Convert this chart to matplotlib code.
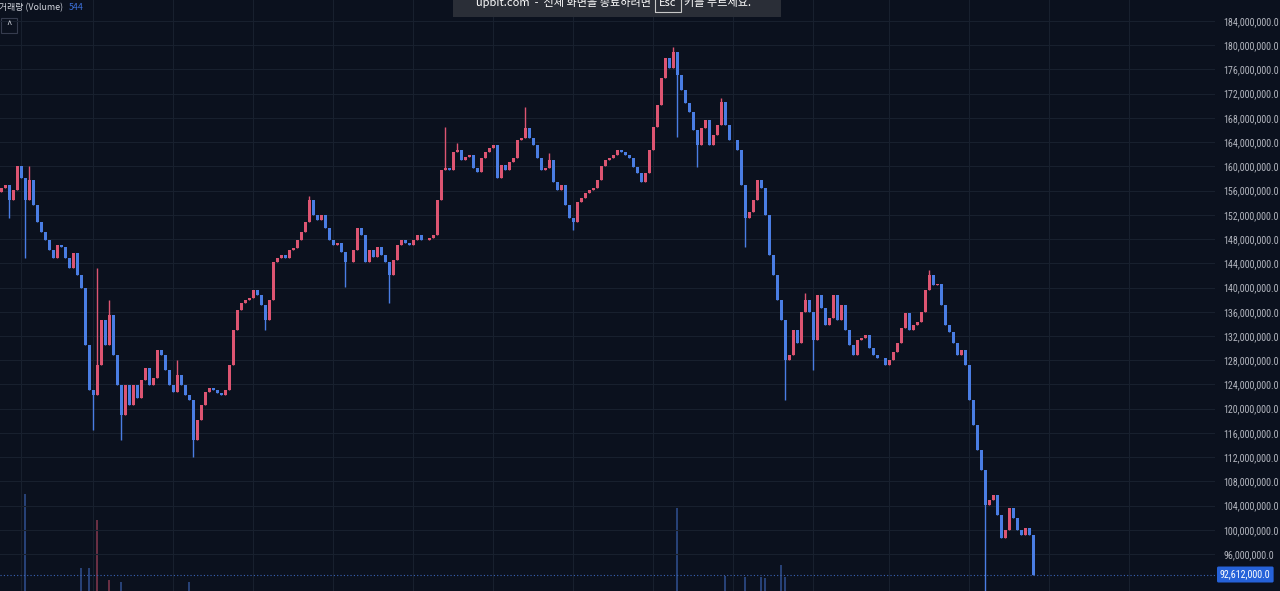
import matplotlib
matplotlib.use('Agg')
import matplotlib.pyplot as plt
from matplotlib import font_manager
from matplotlib.patches import Rectangle
from matplotlib.transforms import blended_transform_factory
import numpy as np

# 종가 (백만 KRW), 캔들 순서대로 - 차트에서 읽은 값
closes = [
    156.4, 156.9, 154.4, 156.1, 160.0, 158.1, 154.4, 157.7, 153.6, 150.8,
    149.2, 147.8, 146.2, 144.9, 147.0, 146.7, 144.9, 143.2, 145.7, 142.1,
    139.9, 130.5, 123.1, 122.3, 127.2, 134.6, 130.5, 135.5, 128.9, 123.9,
    118.9, 123.9, 120.6, 123.9, 121.8, 124.7, 126.7, 123.9, 125.1, 129.7,
    128.9, 126.4, 123.9, 122.7, 125.5, 123.9, 122.3, 121.4, 114.8, 118.1,
    120.6, 122.7, 123.4, 123.1, 122.6, 122.3, 123.1, 127.2, 133.0, 136.3,
    137.4, 137.9, 138.3, 139.6, 138.8, 137.1, 134.6, 137.9, 144.2, 144.9,
    145.4, 144.9, 146.2, 146.5, 147.8, 149.2, 150.8, 154.4, 152.0, 151.2,
    152.0, 149.8, 147.8, 147.0, 147.4, 145.9, 144.2, 144.2, 146.2, 149.8,
    148.7, 144.2, 146.2, 145.0, 146.7, 145.4, 144.2, 142.1, 144.5, 147.0,
    147.8, 147.4, 147.0, 147.8, 148.7, 147.8, 147.8, 148.2, 148.7, 154.4,
    159.4, 159.7, 159.4, 162.4, 162.7, 161.1, 161.5, 161.9, 159.7, 159.1,
    161.4, 162.4, 163.0, 163.5, 158.1, 160.2, 159.4, 160.7, 161.4, 164.4,
    164.7, 166.3, 164.7, 163.5, 161.4, 159.4, 159.7, 161.1, 157.4, 156.1,
    156.9, 153.6, 151.5, 150.8, 154.1, 154.8, 155.6, 156.1, 156.4, 157.7,
    160.1, 161.1, 161.4, 161.9, 162.7, 162.4, 161.9, 161.4, 159.9, 158.9,
    157.4, 158.9, 162.7, 166.5, 170.1, 174.6, 177.9, 176.2, 178.9, 175.1,
    172.6, 170.5, 169.0, 166.0, 163.5, 166.3, 167.7, 163.5, 165.2, 166.8,
    170.6, 166.8, 164.4, 164.4, 162.7, 156.9, 151.5, 152.5, 154.4, 157.7,
    156.4, 152.0, 145.4, 142.1, 137.9, 134.6, 128.0, 128.9, 133.0, 130.8,
    136.0, 137.9, 136.0, 131.3, 138.8, 136.6, 133.8, 135.0, 138.8, 134.6,
    137.1, 133.0, 130.5, 128.9, 131.3, 131.7, 132.2, 130.0, 128.9, 128.4,
    128.4, 127.2, 128.0, 129.4, 130.8, 133.3, 135.8, 133.0, 133.8, 134.3,
    136.0, 139.6, 142.1, 140.4, 140.6, 137.1, 133.8, 132.7, 130.8, 128.9,
    129.7, 127.2, 121.4, 117.3, 113.2, 109.9, 104.1, 104.9, 105.7, 102.4,
    98.6, 100.0, 103.6, 101.9, 100.0, 99.1, 100.3, 99.1, 92.612,
]
first_open = 155.8

# 꼬리 (고가/저가) - 눈에 띄는 것만
spike_high = {7: 160.0, 24: 143.2, 27: 137.9, 44: 128.0, 77: 155.1,
              111: 166.5, 114: 163.8, 131: 169.8, 137: 162.2, 168: 179.7,
              180: 171.3, 201: 139.1, 232: 142.9}
spike_low = {2: 151.5, 6: 144.9, 23: 116.5, 30: 114.8, 48: 112.0, 66: 133.0,
             86: 140.1, 97: 137.4, 143: 149.5, 169: 164.9, 174: 159.9,
             186: 146.7, 196: 121.4, 203: 126.4, 246: 89.0}

# 거래량
vol_idx = [6, 20, 22, 24, 27, 30, 47, 169, 181, 186, 190, 191, 195, 196]
vol_val = [97, 23, 23, 71, 11, 9, 9, 83, 15, 14, 14, 13, 26, 14]

price_ticks = list(range(96, 185, 4))
vgrid_idx = [5, 23, 43, 63, 83, 103, 123, 143, 163, 183, 203, 222, 242, 262, 282]
last_price = 92.612

BG = '#0b111e'
GRID = '#18202e'
UP = '#dd5572'
DOWN = '#4a7de3'
TXT = '#b2b5be'

# 가격축 글꼴 - 좁은 글꼴이 있으면 사용
names = {f.name for f in font_manager.fontManager.ttflist}
axis_font, axis_size = 'Roboto', 6.4
for cand in ['Liberation Sans Narrow', 'Roboto Condensed', 'Open Sans Condensed']:
    if cand in names:
        axis_font, axis_size = cand, 7.2
        break
plt.rcParams['font.family'] = ['Noto Sans CJK KR', 'DejaVu Sans']

fig = plt.figure(figsize=(12.8, 5.91), dpi=100, facecolor=BG)
W, H = 1280, 591
ax = fig.add_axes([0, 0, 1215 / W, 1])
ax.set_facecolor(BG)

# 거래량 (아래쪽)
axv = ax.twinx()
ax.set_zorder(2)
ax.patch.set_visible(False)
axv.set_zorder(1)

closes = np.array(closes)
n = len(closes)
idx = np.arange(n)
opens = np.r_[first_open, closes[:-1]]
highs = np.maximum(opens, closes)
lows = np.minimum(opens, closes)
for k, v in spike_high.items():
    highs[k] = max(highs[k], v)
for k, v in spike_low.items():
    lows[k] = min(lows[k], v)
up = closes >= opens
colors = np.where(up, UP, DOWN)

ax.vlines(idx, lows, highs, colors=colors, linewidth=1.0, zorder=3)
ax.bar(idx, closes - opens, bottom=opens, width=0.75, color=colors,
       linewidth=0, zorder=3)

vcol = [UP if up[i] else DOWN for i in vol_idx]
axv.bar(vol_idx, vol_val, width=0.3, color=vcol, alpha=0.45, linewidth=0)
axv.set_ylim(0, 591)
axv.axis('off')

ax.set_xlim(-0.25, 303.5)
ax.set_ylim(89.89, 187.47)
ax.set_yticks(price_ticks)
ax.set_yticklabels([f'{p * 1e6:,.1f}' for p in price_ticks])
ax.yaxis.tick_right()
ax.tick_params(axis='y', length=0, pad=6, labelsize=axis_size, labelcolor=TXT)
for lab in ax.get_yticklabels():
    lab.set_fontfamily([axis_font, 'DejaVu Sans'])
ax.set_xticks(vgrid_idx)
ax.tick_params(axis='x', length=0, labelbottom=False)
ax.grid(True, color=GRID, linewidth=0.8, zorder=0)
for s in ax.spines.values():
    s.set_visible(False)
for s in axv.spines.values():
    s.set_visible(False)

# 현재가 점선
ax.axhline(last_price, color='#3b64b8', linewidth=0.8, linestyle=(0, (1, 2)),
           zorder=2)
tr = blended_transform_factory(fig.transFigure, ax.transData)
ax.text(1220 / W, last_price, f'{last_price * 1e6:,.1f}', transform=tr,
        ha='left', va='center', fontsize=axis_size, color='white',
        fontfamily=[axis_font, 'DejaVu Sans'], clip_on=False, zorder=10,
        bbox=dict(boxstyle='round,pad=0.3,rounding_size=0.15',
                  fc='#2662d9', ec='none'))

# 좌상단 지표 라벨
fig.text(-1 / W, 1 - 8 / H, '거래량 (Volume)', fontsize=6.4, color='#d1d4dc',
         ha='left', va='center')
fig.text(69 / W, 1 - 8 / H, '544', fontsize=6.4, color='#3c6fd8',
         ha='left', va='center')
fig.patches.append(Rectangle((1 / W, 1 - 33 / H), 16 / W, 15 / H,
                             transform=fig.transFigure, fc=BG, ec='#363c4e',
                             lw=0.8))
fig.text(9 / W, 1 - 25 / H, '^', fontsize=7, color='#d1d4dc', ha='center',
         va='center')

# 전체 화면 안내 배너 (위쪽이 잘림)
fig.patches.append(Rectangle((453 / W, 1 - 17 / H), 328 / W, 17 / H,
                             transform=fig.transFigure, fc='#2a2e37',
                             ec='none', zorder=20))
fig.text(651 / W, 1 - 6 / H, 'upbit.com  -  전체 화면을 종료하려면', fontsize=8.0,
         color='white', ha='right', va='baseline', zorder=21)
fig.text(668 / W, 1 - 6 / H, 'Esc', fontsize=8.0, color='white', ha='center',
         va='baseline', zorder=21,
         bbox=dict(boxstyle='square,pad=0.35', fc='none', ec='#c8c8c8', lw=0.8))
fig.text(684 / W, 1 - 6 / H, '키를 누르세요.', fontsize=8.0, color='white',
         ha='left', va='baseline', zorder=21)

plt.savefig('out.png', dpi=100, facecolor=BG)
